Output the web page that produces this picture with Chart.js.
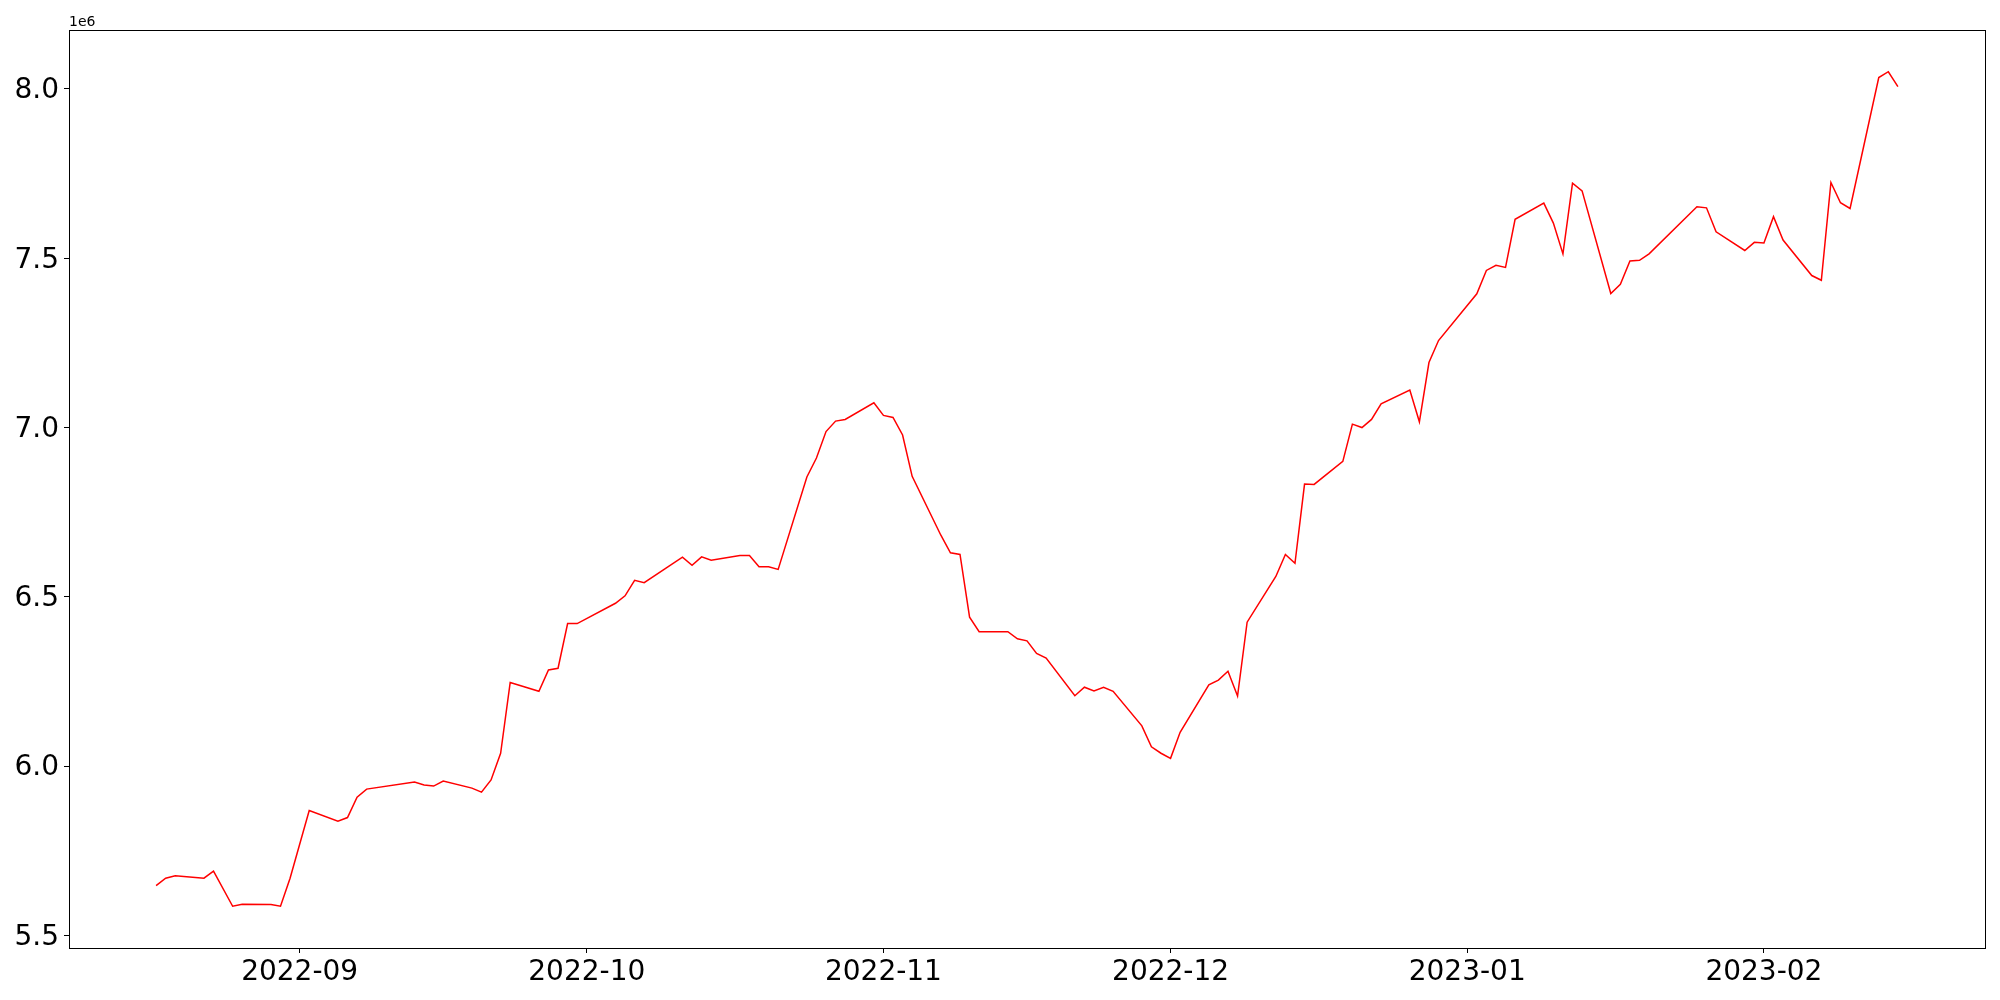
<!DOCTYPE html>
<html>
<head>
<meta charset="utf-8">
<script src="https://cdn.jsdelivr.net/npm/chart.js@4/dist/chart.umd.min.js"></script>
<style>
  body { margin: 0; background: #fff; }
  #wrap { width: 2000px; height: 1000px; position: relative; }
</style>
</head>
<body>
<div id="wrap"><canvas id="myChart"></canvas></div>
<script>
var dates = [
  '2022-08-17','2022-08-18','2022-08-19','2022-08-22','2022-08-23','2022-08-25','2022-08-26','2022-08-29','2022-08-30','2022-08-31',
  '2022-09-02','2022-09-05','2022-09-06','2022-09-07','2022-09-08','2022-09-13','2022-09-14','2022-09-15','2022-09-16','2022-09-19',
  '2022-09-20','2022-09-21','2022-09-22','2022-09-23','2022-09-26','2022-09-27','2022-09-28','2022-09-29','2022-09-30','2022-10-04',
  '2022-10-05','2022-10-06','2022-10-07','2022-10-11','2022-10-12','2022-10-13','2022-10-14','2022-10-17','2022-10-18','2022-10-19',
  '2022-10-20','2022-10-21','2022-10-24','2022-10-25','2022-10-26','2022-10-27','2022-10-28','2022-10-31','2022-11-01','2022-11-02',
  '2022-11-03','2022-11-04','2022-11-07','2022-11-08','2022-11-09','2022-11-10','2022-11-11','2022-11-14','2022-11-15','2022-11-16',
  '2022-11-17','2022-11-18','2022-11-21','2022-11-22','2022-11-23','2022-11-24','2022-11-25','2022-11-28','2022-11-29','2022-11-30',
  '2022-12-01','2022-12-02','2022-12-05','2022-12-06','2022-12-07','2022-12-08','2022-12-09','2022-12-12','2022-12-13','2022-12-14',
  '2022-12-15','2022-12-16','2022-12-19','2022-12-20','2022-12-21','2022-12-22','2022-12-23','2022-12-26','2022-12-27','2022-12-28',
  '2022-12-29','2023-01-02','2023-01-03','2023-01-04','2023-01-05','2023-01-06','2023-01-09','2023-01-10','2023-01-11','2023-01-12',
  '2023-01-13','2023-01-16','2023-01-17','2023-01-18','2023-01-19','2023-01-20','2023-01-25','2023-01-26','2023-01-27','2023-01-30',
  '2023-01-31','2023-02-01','2023-02-02','2023-02-03','2023-02-06','2023-02-07','2023-02-08','2023-02-09','2023-02-10','2023-02-13',
  '2023-02-14','2023-02-15'
];
var values = [
  5647000,5669000,5676000,5669000,5690000,5586000,5592000,5591000,5586000,5669000,
  5869000,5837000,5848000,5908000,5932000,5953000,5944000,5941000,5956000,5935000,
  5923000,5959000,6038000,6247000,6221000,6284000,6289000,6421000,6421000,6481000,
  6503000,6549000,6542000,6617000,6593000,6618000,6608000,6622000,6622000,6589000,
  6589000,6581000,6854000,6910000,6988000,7019000,7024000,7073000,7036000,7030000,
  6978000,6856000,6682000,6630000,6625000,6440000,6397000,6397000,6376000,6370000,
  6333000,6319000,6208000,6233000,6222000,6233000,6221000,6119000,6057000,6038000,
  6023000,6100000,6240000,6254000,6280000,6207000,6425000,6560000,6625000,6599000,
  6833000,6832000,6900000,7010000,7000000,7024000,7070000,7111000,7017000,7192000,
  7257000,7395000,7464000,7479000,7473000,7615000,7663000,7604000,7513000,7722000,
  7699000,7396000,7423000,7492000,7494000,7513000,7652000,7649000,7578000,7523000,
  7547000,7545000,7623000,7554000,7449000,7435000,7724000,7664000,7647000,8034000,
  8051000,8007000
];
var xTickLabels = ['2022-09','2022-10','2022-11','2022-12','2023-01','2023-02'];
var yTicks = [5500000,6000000,6500000,7000000,7500000,8000000];

function dayNum(s){
  var p = s.split('-');
  return Date.UTC(+p[0], +p[1]-1, p[2] ? +p[2] : 1) / 86400000;
}
function dayLabel(d){
  var dt = new Date(d*86400000);
  var m = dt.getUTCMonth()+1;
  return dt.getUTCFullYear() + '-' + (m<10 ? '0'+m : m);
}

var points = dates.map(function(d,i){ return {x: dayNum(d), y: values[i]}; });

// matplotlib style 5% margins
var xMin = points[0].x, xMax = points[points.length-1].x;
var xPad = (xMax-xMin)*0.05;
var yLo = Math.min.apply(null, values), yHi = Math.max.apply(null, values);
var yPad = (yHi-yLo)*0.05;

var framePlugin = {
  id: 'frame',
  afterDraw: function(chart){
    var ctx = chart.ctx, a = chart.chartArea;
    ctx.save();
    ctx.strokeStyle = '#000';
    ctx.lineWidth = 1;
    ctx.strokeRect(Math.round(a.left)+0.5, Math.round(a.top)+0.5, Math.round(a.right-a.left), Math.round(a.bottom-a.top));
    ctx.fillStyle = '#000';
    ctx.font = '14px "DejaVu Sans"';
    ctx.textBaseline = 'bottom';
    ctx.fillText('1e6', a.left, a.top - 1);
    ctx.restore();
  }
};

var ctx = document.getElementById('myChart').getContext('2d');
var chart = new Chart(ctx, {
  type: 'line',
  data: {
    datasets: [{
      data: points,
      borderColor: '#ff0000',
      borderWidth: 1.5,
      pointRadius: 0,
      fill: false,
      tension: 0
    }]
  },
  options: {
    responsive: true,
    maintainAspectRatio: false,
    animation: false,
    devicePixelRatio: 1,
    layout: { padding: { top: 30, right: 15, left: 0, bottom: 0 } },
    plugins: { legend: { display: false }, tooltip: { enabled: false } },
    scales: {
      x: {
        type: 'linear',
        min: xMin - xPad,
        max: xMax + xPad,
        afterBuildTicks: function(scale){
          scale.ticks = xTickLabels.map(function(l){ return {value: dayNum(l)}; });
        },
        afterFit: function(scale){ scale.height = 52; },
        ticks: {
          callback: function(v){ return dayLabel(v); },
          color: '#000',
          font: { family: 'DejaVu Sans', size: 28 },
          padding: 3,
          maxRotation: 0,
          autoSkip: false
        },
        grid: { display: true, drawOnChartArea: false, drawTicks: true, tickLength: 5, color: '#000' },
        border: { display: true, color: '#000', width: 1 }
      },
      y: {
        type: 'linear',
        min: yLo - yPad,
        max: yHi + yPad,
        afterBuildTicks: function(scale){
          scale.ticks = yTicks.map(function(v){ return {value: v}; });
        },
        afterFit: function(scale){ scale.width = 69; },
        ticks: {
          callback: function(v){ return (v/1e6).toFixed(1); },
          color: '#000',
          font: { family: 'DejaVu Sans', size: 28 },
          padding: 5,
          labelOffset: 2
        },
        grid: { display: true, drawOnChartArea: false, drawTicks: true, tickLength: 5, color: '#000' },
        border: { display: true, color: '#000', width: 1 }
      }
    }
  },
  plugins: [framePlugin]
});
</script>
</body>
</html>
